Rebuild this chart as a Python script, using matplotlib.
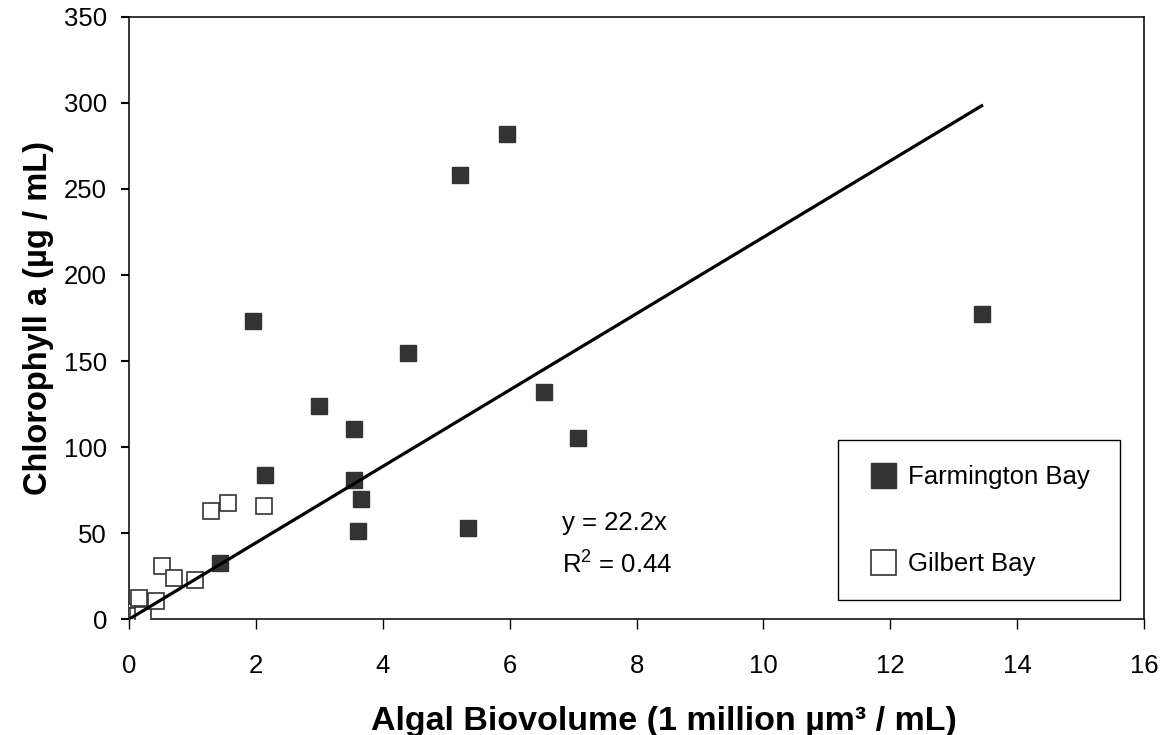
import matplotlib
matplotlib.use("Agg")
import matplotlib.pyplot as plt
from matplotlib.lines import Line2D
import numpy as np

plt.rcParams['font.family'] = ['Liberation Sans', 'DejaVu Sans']

# Farmington Bay (filled squares)
farm_x = [1.43, 1.95, 2.14, 2.99, 3.55, 3.55, 3.65, 3.60, 4.40, 5.21, 5.34, 5.95, 6.54, 7.08, 13.44]
farm_y = [32.4, 173.3, 83.5, 123.8, 110.3, 80.8, 69.8, 51.2, 154.5, 258.1, 53.1, 281.8, 131.8, 105.4, 177.1]

# Gilbert Bay (open squares)
gil_x = [0.02, 0.04, 0.13, 0.21, 0.15, 0.42, 0.51, 0.71, 1.04, 1.28, 1.55, 2.13]
gil_y = [4.2, 1.5, 2.0, 2.5, 12.2, 10.6, 30.8, 23.7, 22.7, 63.0, 67.3, 65.7]

slope = 22.2
r2 = 0.44

fig = plt.figure(figsize=(11.6, 7.35), dpi=100)
ax = fig.add_axes([0.1115, 0.1578, 0.8747, 0.8191])

dark = '#333333'
ax.plot(farm_x, farm_y, ls='none', marker='s', ms=11.5, mfc=dark, mec=dark, mew=1, zorder=3)
ax.plot(gil_x, gil_y, ls='none', marker='s', ms=11.5, mfc='white', mec=dark, mew=1.2, zorder=3)

# regression line through origin
all_x = np.array(farm_x + gil_x)
fit_x = np.array([all_x.min(), all_x.max()])
ax.plot(fit_x, slope * fit_x, color='black', lw=2.3, zorder=4)

ax.text(6.83, 56, 'y = 22.2x', fontsize=18.5, va='center', ha='left')
ax.text(6.83, 31.5, '$\\mathregular{R^2}$ = %.2f' % r2, fontsize=18.5, va='center', ha='left')

ax.set_xlim(0, 16)
ax.set_ylim(0, 350)
ax.set_xticks(np.arange(0, 17, 2))
ax.set_yticks(np.arange(0, 351, 50))
ax.tick_params(axis='x', direction='out', length=7, width=1, labelsize=18.5, pad=18)
ax.tick_params(axis='y', direction='out', length=6, width=1.5, labelsize=18.5, pad=10)
for s in ax.spines.values():
    s.set_linewidth(1.1)
    s.set_color('black')

ax.set_xlabel('Algal Biovolume (1 million µm³ / mL)', fontsize=24.5, fontweight='bold', labelpad=20)
ax.xaxis.label.set_x(0.527)
ax.set_ylabel('Chlorophyll a (µg / mL)', fontsize=23.5, fontweight='bold', labelpad=7)

handles = [
    Line2D([], [], ls='none', marker='s', ms=18, mfc=dark, mec=dark, label='Farmington Bay'),
    Line2D([], [], ls='none', marker='s', ms=18, mfc='white', mec=dark, mew=1.2, label='Gilbert Bay'),
]
leg = ax.legend(handles=handles, loc='lower left', bbox_to_anchor=(0.698, 0.0316, 0.278, 0.266),
                mode='expand', fontsize=18.5, frameon=True, fancybox=False, framealpha=1,
                edgecolor='black', borderpad=0.95, labelspacing=2.45, handlelength=1.6,
                handletextpad=0.2, borderaxespad=0)
leg.get_frame().set_linewidth(1.0)

fig.savefig('out.png', dpi=100)
